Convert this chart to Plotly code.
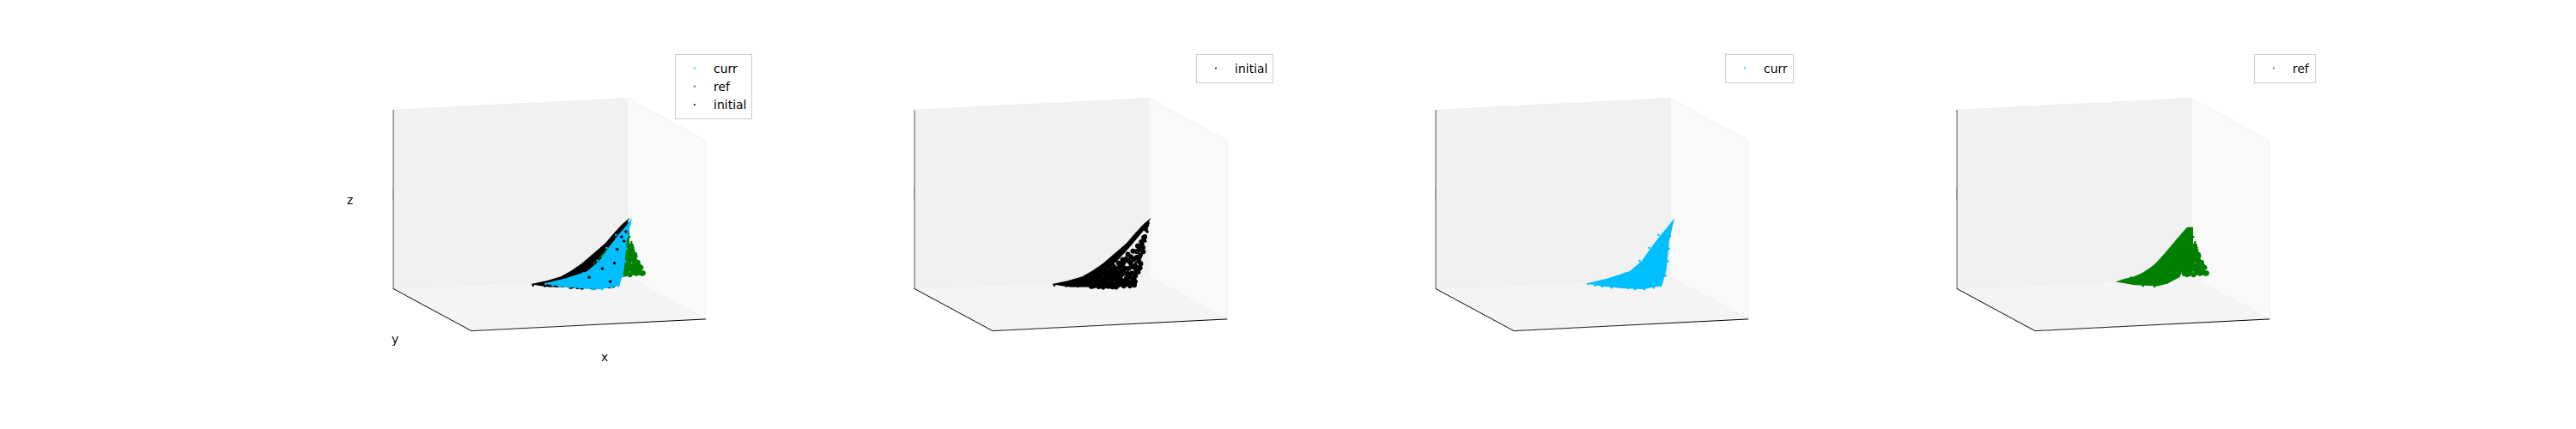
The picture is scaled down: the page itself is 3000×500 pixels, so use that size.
import plotly.graph_objects as go

# Values. Axes carry no ticks, so units are arbitrary.
# The solid part of each cloud is given as an upper and a lower edge.
curr_top_x = [.491, .584, .678, .728, .772, .809, .840, .868]
curr_top_z = [.108, .131, .165, .218, .296, .358, .403, .450]
curr_bot_x = [.491, .559, .647, .734, .815, .834, .846, .868]
curr_bot_z = [.108, .088, .071, .060, .075, .162, .323, .450]

ref_top_x = [.533, .570, .608, .645, .683, .708, .739, .770, .801, .820, .839]
ref_top_z = [.110, .124, .133, .151, .181, .207, .250, .296, .342, .370, .396]
ref_bot_x = [.533, .570, .608, .658, .714, .758, .808, .827, .839, .864, .864]
ref_bot_z = [.110, .100, .088, .081, .074, .087, .119, .187, .243, .305, .394]

initial_top_x = [.438, .507, .569, .613, .657, .707, .757, .794, .831, .863]
initial_top_z = [.106, .120, .140, .170, .207, .260, .313, .367, .417, .450]
initial_bot_x = [.438, .482, .519, .594, .625, .669, .719, .775, .831, .863]
initial_bot_z = [.106, .093, .084, .079, .112, .166, .218, .296, .380, .450]

# Individually visible points along the edges of each cloud
curr_x = [.50, .53, .56, .60, .64, .67, .70, .74, .78, .81, .83, .84, .845, .85, .86, .80, .76, .72, .66, .60]
curr_z = [.105, .095, .087, .078, .125, .071, .062, .060, .066, .074, .13, .21, .28, .35, .42, .36, .29, .22, .155, .125]

ref_x = [.82, .85, .88, .905, .925, .91, .895, .88, .872, .865, .85, .60, .65, .70, .75]
ref_z = [.135, .125, .13, .128, .13, .18, .23, .28, .31, .34, .39, .13, .08, .073, .09]

initial_x = [.60, .64, .68, .72, .75, .787, .795, .81, .824, .835, .843, .852, .45, .50, .55]
initial_z = [.08, .078, .071, .071, .073, .07, .11, .18, .258, .33, .375, .42, .098, .09, .085]

# Speckled, less dense parts of the clouds
ref_fill_x = [.826, .838, .851, .866, .879, .893, .907, .918, .824, .836, .849, .861, .874, .888, .902, .829, .842, .856, .87, .884,
              .897, .834, .847, .861, .875, .889, .84, .853, .866, .879, .848, .86, .872, .855, .867, .832, .845, .858, .873, .886,
              .9, .913, .828, .843, .857, .871, .885, .84, .854, .868, .881, .85, .863, .876, .922]
ref_fill_z = [.137, .131, .141, .128, .139, .133, .142, .131, .158, .161, .152, .163, .154, .16, .149, .181, .176, .186, .178, .183,
              .176, .205, .211, .201, .209, .203, .229, .234, .226, .232, .256, .249, .258, .281, .274, .148, .171, .196, .219, .241,
              .195, .165, .224, .245, .263, .291, .217, .192, .154, .171, .146, .216, .24, .264, .134]

initial_fill_x = [.604, .611, .619, .624, .633, .639, .646, .651, .658, .664, .671, .677, .683, .689, .694, .701, .707, .713, .718, .724,
                  .729, .735, .741, .746, .752, .757, .763, .769, .774, .78, .785, .791, .796, .801, .807, .812, .818, .823, .829, .835,
                  .608, .628, .642, .655, .668, .674, .681, .692, .698, .704, .711, .716, .722, .727, .733, .739, .744, .75, .755, .761,
                  .767, .772, .777, .783, .789, .794, .799, .805, .81, .816, .821, .827, .832, .838, .843, .668, .686, .703, .72, .737,
                  .754, .771, .788, .676, .693, .71, .727, .744, .761, .778, .795, .812, .66, .697, .731, .748, .765, .782, .8, .815]
initial_fill_z = [.096, .117, .084, .108, .127, .079, .098, .138, .075, .151, .105, .079, .128, .172, .093, .19, .118, .072, .155, .205,
                  .086, .137, .223, .076, .174, .118, .252, .09, .205, .145, .268, .078, .182, .232, .15, .275, .196, .305, .262, .345,
                  .082, .092, .112, .097, .088, .134, .097, .148, .074, .162, .092, .137, .082, .181, .112, .192, .098, .147, .226, .106,
                  .172, .075, .236, .113, .222, .097, .155, .296, .21, .244, .318, .285, .335, .39, .41, .12, .078, .138, .112, .158,
                  .084, .128, .178, .158, .115, .178, .135, .205, .145, .194, .128, .232, .118, .086, .152, .105, .215, .082, .265, .172]

# Black points that show through the blue cloud in the first panel
initial_front_x = [.839, .801, .790, .738, .682, .831, .772, .820]
initial_front_z = [.378, .282, .205, .178, .133, .325, .103, .350]

COLORS = {"curr": "#00bfff", "ref": "#008000", "initial": "#000000"}
PLANE = {"curr": .49, "initial": .50, "ref": .51}
FRONT_PLANE = .48
FONT = "DejaVu Sans"
PANEL_STEP = 607 / 3000
DOMAIN_X0, DOMAIN_X1 = 332 / 3000, 932 / 3000
X_RANGE, Y_RANGE, Z_RANGE = [.02, 1.02], [0, 1], [-.01, .99]
R = 2.6
EYE = dict(x=-0.288 * R, y=-0.943 * R, z=0.165 * R)


def strip(name, tx, tz, bx, bz, scene):
    n = len(tx)
    xs, zs = list(tx) + list(bx), list(tz) + list(bz)
    i, j, k = [], [], []
    for a in range(n - 1):
        i += [a, a + 1]
        j += [a + n, a + n]
        k += [a + 1, a + n + 1]
    return go.Mesh3d(x=xs, y=[PLANE[name]] * len(xs), z=zs, i=i, j=j, k=k, color=COLORS[name], opacity=1,
                     flatshading=True, hoverinfo="skip", showlegend=False, scene=scene,
                     lighting=dict(ambient=1, diffuse=0, specular=0, roughness=1, fresnel=0))


def cloud(name, xs, zs, scene, legend=None, size=1.5, plane=None):
    return go.Scatter3d(x=xs, y=[plane if plane is not None else PLANE[name]] * len(xs), z=zs, mode="markers", name=name, scene=scene,
                        legend=legend or "legend", showlegend=legend is not None, hoverinfo="skip" if legend is None else None,
                        marker=dict(size=size, color=COLORS[name], line=dict(width=0)))


def add(fig, name, scene, legend):
    tables = {
        "curr": (curr_top_x, curr_top_z, curr_bot_x, curr_bot_z, curr_x, curr_z, None, None),
        "ref": (ref_top_x, ref_top_z, ref_bot_x, ref_bot_z, ref_x, ref_z, ref_fill_x, ref_fill_z),
        "initial": (initial_top_x, initial_top_z, initial_bot_x, initial_bot_z, initial_x, initial_z, initial_fill_x, initial_fill_z),
    }
    tx, tz, bx, bz, px, pz, fx, fz = tables[name]
    fig.add_trace(strip(name, tx, tz, bx, bz, scene))
    if fx is not None:
        fig.add_trace(cloud(name, fx, fz, scene, size=3.5))
    if name == "initial":
        fig.add_trace(cloud(name, initial_front_x, initial_front_z, scene, size=2, plane=FRONT_PLANE))
    fig.add_trace(cloud(name, px, pz, scene, legend=legend))


fig = go.Figure()
panels = [["curr", "ref", "initial"], ["initial"], ["curr"], ["ref"]]
legend_boxes = [(778, 55), (1385, 55), (2001, 55), (2617, 55)]
layout = dict(width=3000, height=500, margin=dict(l=0, r=0, t=0, b=0), paper_bgcolor="white", showlegend=True)

for idx, names in enumerate(panels):
    s = "scene" if idx == 0 else f"scene{idx + 1}"
    l = "legend" if idx == 0 else f"legend{idx + 1}"
    for nm in names:
        add(fig, nm, s, l)


    def ax(bg, rng):
        return dict(range=rng, autorange=False, showbackground=True, backgroundcolor=bg, showgrid=True,
                    gridcolor="#e8e8e8", gridwidth=1, tickvals=rng, showticklabels=False, ticks="", zeroline=False,
                    showline=True, linecolor="black", linewidth=2, showspikes=False, title=dict(text=""))

    labels = []
    if idx == 0:
        for text, px, py, pz, sx, sy in [("x", .52, 0, -.01, 18, -37), ("y", .02, .5, -.01, -43, -34), ("z", .02, 1, .49, -50, -1)]:
            labels.append(dict(x=px, y=py, z=pz, text=text, showarrow=False, xshift=sx, yshift=sy,
                               font=dict(family=FONT, size=14, color="black")))

    layout[s] = dict(domain=dict(x=[DOMAIN_X0 + idx * PANEL_STEP, DOMAIN_X1 + idx * PANEL_STEP], y=[0.036, 0.996]),
                     aspectmode="manual", aspectratio=dict(x=1.19, y=1.3, z=0.88),
                     camera=dict(eye=EYE, up=dict(x=0, y=0, z=1), center=dict(x=0, y=0, z=0),
                                 projection=dict(type="orthographic")),
                     xaxis=ax("#f9f9f9", X_RANGE), yaxis=ax("#f1f1f1", Y_RANGE), zaxis=ax("#f4f4f4", Z_RANGE), annotations=labels)
    bx, by = legend_boxes[idx]
    layout[l] = dict(x=bx / 3000, y=1 - by / 500, xanchor="left", yanchor="top", bgcolor="white", bordercolor="#cccccc",
                     borderwidth=1, font=dict(family=FONT, size=14, color="black"), itemsizing="trace", itemwidth=34)

fig.update_layout(**layout)
fig.write_html("out.html")
